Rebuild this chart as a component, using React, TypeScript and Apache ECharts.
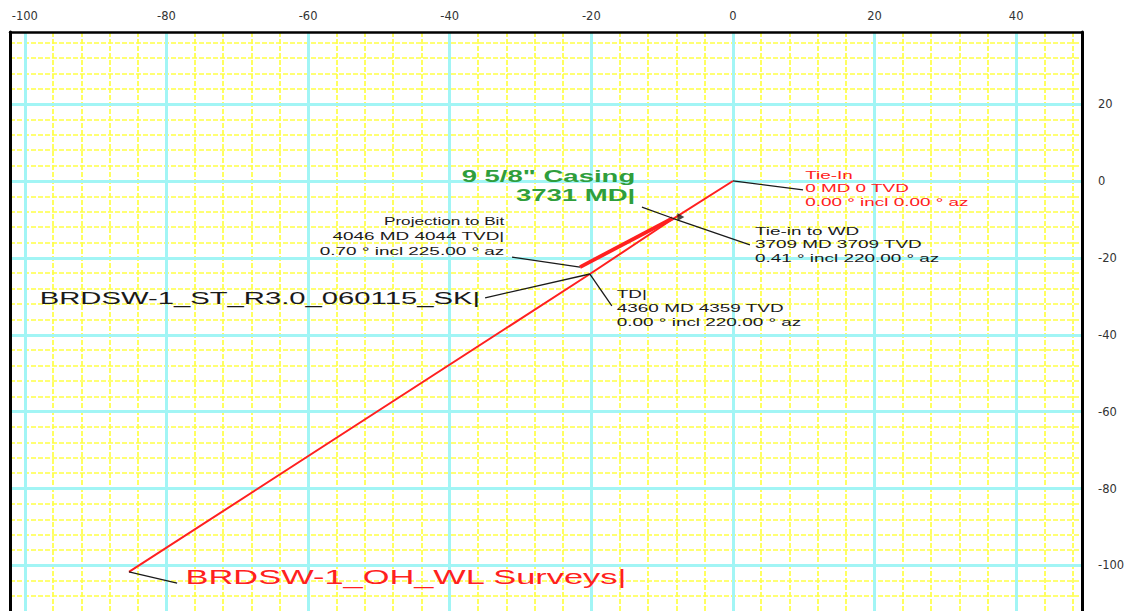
import React, { useEffect, useRef } from "react";
import * as echarts from "echarts";

// ---- axis ranges (East/West on x, North/South on y) ----
const X_RANGE = [-102.1, 49.3];
const Y_RANGE = [-119.4, 38.75];
const MAJOR_STEP = 20;
const MINOR_STEP = 4;

// ---- well paths (E/W, N/S) ----
const OH_SURVEY = [
  [0, 0],
  [-8.5, -9.9],
  [-20.2, -24.2],
  [-85.3, -101.7],
];
const ST_SIDETRACK = [
  [-8.5, -9.7],
  [-21.6, -22.4],
];
const CASING_SHOE = [[-7.6, -9.1]];

// ---- annotation leader lines ----
const LEADERS = [
  [[0, 0], [9.9, -2.3]],
  [[-12.85, -6.8], [-8.5, -9.7]],
  [[-8.5, -9.7], [2.4, -16.6]],
  [[-31.2, -19.8], [-21.6, -22.4]],
  [[-35.0, -30.4], [-20.2, -24.2]],
  [[-20.2, -24.2], [-17.1, -32.5]],
  [[-85.3, -101.7], [-78.5, -104.6]],
];

// ---- annotation text anchors and contents ----
const ANN_POS = [
  [10.2, -1.95],
  [3.1, -16.5],
  [-13.8, -1.4],
  [-32.3, -14.4],
  [-97.9, -30.5],
  [-16.4, -33.0],
  [-77.3, -103.0],
];
const ANN_TEXT = [
  ["Tie-In", "0 MD 0 TVD", "0.00 ° incl 0.00 ° az"],
  ["Tie-in to WD", "3709 MD 3709 TVD", "0.41 ° incl 220.00 ° az"],
  ['9 5/8" Casing', "3731 MD|"],
  ["Projection to Bit", "4046 MD 4044 TVD|", "0.70 ° incl 225.00 ° az"],
  ["BRDSW-1_ST_R3.0_060115_SK|"],
  ["TD|", "4360 MD 4359 TVD", "0.00 ° incl 220.00 ° az"],
  ["BRDSW-1_OH_WL Surveys|"],
];

const RED = "#ff2020";
const GREEN = "#2f9e3c";
const INK = "#1a1a1a";
const TEXT_STRETCH = 1.72;

const ANN_STYLE = [
  { color: RED, sizes: [11], bold: false, align: "left", lh: 13.5 },
  { color: INK, sizes: [11], bold: false, align: "left", lh: 13.5 },
  { color: GREEN, sizes: [16], bold: true, align: "right", lh: 19 },
  { color: INK, sizes: [10, 11, 11], bold: false, align: "right", lh: 14.5 },
  { color: INK, sizes: [17], bold: false, align: "left", lh: 20 },
  { color: INK, sizes: [11], bold: false, align: "left", lh: 14 },
  { color: RED, sizes: [20], bold: false, align: "left", lh: 22 },
];

const FONT = '"Liberation Sans", Arial, sans-serif';

const majorLabel = (v: number) =>
  Math.abs(v % MAJOR_STEP) < 1e-6 ? String(Math.round(v)) : "";

export default function App() {
  const ref = useRef<HTMLDivElement>(null);

  useEffect(() => {
    if (!ref.current) return;
    const chart = echarts.init(ref.current, undefined, { renderer: "svg" });

    const cyan = "#a2f5f5";
    const yellow = "#ffff45";
    const labelStyle = {
      color: "#333",
      fontFamily: "DejaVu Sans",
      fontSize: 11.5,
      formatter: majorLabel,
      showMinLabel: false,
      showMaxLabel: false,
    };
    const minorSplit = {
      show: true,
      showMinLine: false,
      showMaxLine: false,
      lineStyle: { color: yellow, width: 1.7, type: [5, 2] },
    };
    const majorSplit = {
      show: true,
      showMinLine: false,
      showMaxLine: false,
      lineStyle: { color: cyan, width: 3, type: "solid" },
    };

    const option: any = {
      animation: false,
      backgroundColor: "#ffffff",
      grid: { left: 10, top: 32, right: 56, bottom: 60, containLabel: false },
      xAxis: [
        {
          type: "value",
          position: "top",
          min: X_RANGE[0],
          max: X_RANGE[1],
          minInterval: MAJOR_STEP,
          maxInterval: MAJOR_STEP,
          z: 1,
          axisLine: { show: true, onZero: false, lineStyle: { color: "#000", width: 2.5 } },
          axisTick: { show: false },
          axisLabel: { ...labelStyle, margin: 10 },
          splitLine: majorSplit,
        },
        {
          type: "value",
          position: "bottom",
          min: X_RANGE[0],
          max: X_RANGE[1],
          minInterval: MINOR_STEP,
          maxInterval: MINOR_STEP,
          z: 0,
          axisLine: { show: false },
          axisTick: { show: false },
          axisLabel: { show: false },
          splitLine: minorSplit,
        },
      ],
      yAxis: [
        {
          type: "value",
          position: "right",
          min: Y_RANGE[0],
          max: Y_RANGE[1],
          minInterval: MAJOR_STEP,
          maxInterval: MAJOR_STEP,
          z: 1,
          axisLine: { show: true, onZero: false, lineStyle: { color: "#000", width: 3 } },
          axisTick: { show: false },
          axisLabel: { ...labelStyle, margin: 16 },
          splitLine: majorSplit,
        },
        {
          type: "value",
          position: "left",
          min: Y_RANGE[0],
          max: Y_RANGE[1],
          minInterval: MINOR_STEP,
          maxInterval: MINOR_STEP,
          z: 0,
          axisLine: { show: false },
          axisTick: { show: false },
          axisLabel: { show: false },
          splitLine: minorSplit,
        },
        {
          type: "value",
          position: "left",
          min: Y_RANGE[0],
          max: Y_RANGE[1],
          z: 3,
          axisLine: { show: true, onZero: false, lineStyle: { color: "#000", width: 3 } },
          axisTick: { show: false },
          axisLabel: { show: false },
          splitLine: { show: false },
        },
      ],
      series: [
        {
          name: "BRDSW-1_OH_WL Surveys",
          type: "line",
          xAxisIndex: 0,
          yAxisIndex: 0,
          data: OH_SURVEY,
          showSymbol: false,
          lineStyle: { color: RED, width: 2 },
          z: 3,
        },
        {
          name: "BRDSW-1_ST_R3.0_060115_SK",
          type: "line",
          xAxisIndex: 0,
          yAxisIndex: 0,
          data: ST_SIDETRACK,
          showSymbol: false,
          lineStyle: { color: RED, width: 3.8 },
          z: 3,
        },
        {
          name: "leaders",
          type: "lines",
          coordinateSystem: "cartesian2d",
          xAxisIndex: 0,
          yAxisIndex: 0,
          polyline: false,
          data: LEADERS.map((c) => ({ coords: c })),
          lineStyle: { color: INK, width: 1.3, opacity: 1, curveness: 0 },
          silent: true,
          z: 4,
        },
        {
          name: "casing shoe",
          type: "scatter",
          xAxisIndex: 0,
          yAxisIndex: 0,
          data: CASING_SHOE,
          symbol: "triangle",
          symbolSize: [8, 7],
          symbolRotate: 30,
          itemStyle: { color: INK },
          silent: true,
          z: 5,
        },
        {
          name: "annotations",
          type: "custom",
          xAxisIndex: 0,
          yAxisIndex: 0,
          silent: true,
          clip: false,
          z: 6,
          data: ANN_POS.map((p, i) => [p[0], p[1], i]),
          encode: { x: 0, y: 1 },
          renderItem: (params: any, api: any) => {
            const i = api.value(2);
            const p = api.coord([api.value(0), api.value(1)]);
            const lines = ANN_TEXT[i];
            const st = ANN_STYLE[i];
            const n = lines.length;
            return {
              type: "group",
              children: lines.map((t: string, k: number) => ({
                type: "text",
                x: p[0],
                y: p[1] + (k - (n - 1) / 2) * st.lh,
                scaleX: TEXT_STRETCH,
                style: {
                  text: t,
                  fill: st.color,
                  fontSize: st.sizes[k] ?? st.sizes[0],
                  fontFamily: FONT,
                  fontWeight: st.bold ? "bold" : "normal",
                  align: st.align,
                  verticalAlign: "middle",
                },
              })),
            };
          },
        },
      ],
    };

    chart.setOption(option);
    return () => chart.dispose();
  }, []);

  return (
    <div
      ref={ref}
      style={{ position: "fixed", left: 0, top: 0, width: 1138, height: 700, background: "#fff" }}
    />
  );
}
